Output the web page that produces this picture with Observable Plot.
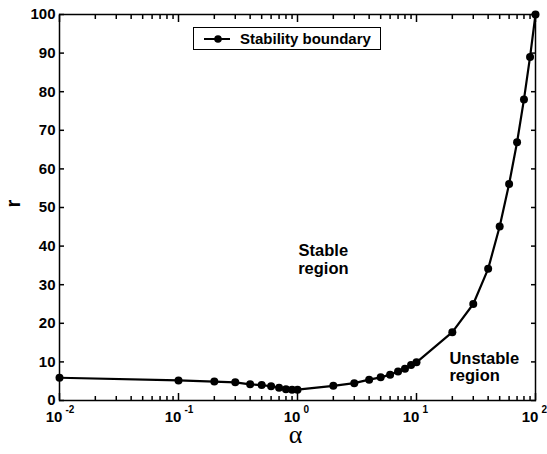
<!DOCTYPE html>
<html><head><meta charset="utf-8">
<script src="https://cdn.jsdelivr.net/npm/d3@7"></script>
<script src="https://cdn.jsdelivr.net/npm/@observablehq/plot@0.6"></script>
<style>
body{margin:0;background:#fff;}
#wrap{position:relative;width:547px;height:454px;font-family:"Liberation Sans",Arial,sans-serif;}
#legend{position:absolute;left:193px;top:27px;width:188px;height:23px;border:1px solid #000;box-sizing:border-box;background:#fff;font-weight:bold;font-size:15px;}
#legend svg{position:absolute;left:8px;top:4px;}
#legend span{position:absolute;left:46px;top:2px;white-space:nowrap;}
</style></head><body><div id="wrap"></div>
<script>
// data
const alpha = [0.01, 0.1, 0.2, 0.3, 0.4, 0.5, 0.6, 0.7, 0.8, 0.9, 1, 2, 3, 4, 5, 6, 7, 8, 9, 10, 20, 30, 40, 50, 60, 70, 80, 90, 100];
const rVal  = [5.9, 5.2, 4.9, 4.7, 4.2, 4.0, 3.7, 3.3, 2.9, 2.8, 2.8, 3.8, 4.5, 5.4, 6.0, 6.7, 7.5, 8.2, 9.2, 9.9, 17.7, 25.0, 34.1, 45.1, 56.1, 66.9, 78.0, 89.0, 100];
const xDecades = [0.01, 0.1, 1, 10, 100];
const xExponents = ["-2", "-1", "0", "1", "2"];
const xMinor = [0.02,0.03,0.04,0.05,0.06,0.07,0.08,0.09, 0.2,0.3,0.4,0.5,0.6,0.7,0.8,0.9, 2,3,4,5,6,7,8,9, 20,30,40,50,60,70,80,90];
const yTicks = [0, 10, 20, 30, 40, 50, 60, 70, 80, 90, 100];
const legendLabel = "Stability boundary";
const annText = ["Stable", "region", "Unstable", "region"];
const annAlpha = [1.65, 1.65, 18.9, 18.9];
const annR = [38.9, 34.2, 10.7, 6.4];
const annAnchor = ["middle", "middle", "start", "start"];

const data = alpha.map((a, i) => ({a, r: rVal[i]}));
const ann = annText.map((t, i) => ({t, a: annAlpha[i], r: annR[i], anchor: annAnchor[i]}));
const blank = () => "";

const wrap = document.getElementById("wrap");
const chart = Plot.plot({
  width: 547, height: 454,
  marginLeft: 59, marginRight: 12, marginTop: 14, marginBottom: 54,
  style: {fontFamily: "'Liberation Sans', Arial, sans-serif", fontWeight: "bold", fontSize: "15px", background: "#fff", color: "#000"},
  x: {type: "log", domain: [0.01, 100]},
  y: {domain: [0, 100]},
  marks: [
    Plot.frame({stroke: "#000", strokeWidth: 1.5}),
    Plot.axisX({anchor: "bottom", ticks: xDecades, tickSize: 7, dy: -7, strokeWidth: 1.5, tickFormat: blank, label: null}),
    Plot.axisX({anchor: "bottom", ticks: xMinor, tickSize: 4, dy: -4, strokeWidth: 1.5, tickFormat: blank, label: null}),
    Plot.axisX({anchor: "top", ticks: xDecades, tickSize: 7, dy: 7, strokeWidth: 1.5, tickFormat: blank, label: null}),
    Plot.axisX({anchor: "top", ticks: xMinor, tickSize: 4, dy: 4, strokeWidth: 1.5, tickFormat: blank, label: null}),
    Plot.axisY({anchor: "left", ticks: yTicks, tickSize: 5, dx: 5, strokeWidth: 1.5, tickFormat: blank, label: null}),
    Plot.axisY({anchor: "right", ticks: yTicks, tickSize: 5, dx: -5, strokeWidth: 1.5, tickFormat: blank, label: null}),
    Plot.axisY({anchor: "left", ticks: yTicks, tickSize: 0, tickPadding: 4, label: null, fontSize: 15}),
    Plot.text(xDecades, {x: d => d, text: () => "10", frameAnchor: "bottom", dy: 21, dx: -5.5, fontSize: 15}),
    Plot.text(xDecades, {x: d => d, text: xExponents, frameAnchor: "bottom", dy: 12, dx: 6, textAnchor: "start", fontSize: 10}),
    Plot.text(["α"], {frameAnchor: "bottom", dy: 42, dx: -2, fontFamily: "'Liberation Serif', serif", fontWeight: "normal", fontSize: 26}),
    Plot.text(["r"], {frameAnchor: "left", dx: -46, rotate: -90, fontSize: 20}),
    Plot.line(data, {x: "a", y: "r", stroke: "#000", strokeWidth: 2.2}),
    Plot.dot(data, {x: "a", y: "r", r: 4, fill: "#000"}),
    Plot.text(ann.filter(d => d.anchor === "middle"), {x: "a", y: "r", text: "t", textAnchor: "middle", fontSize: 16.5}),
    Plot.text(ann.filter(d => d.anchor === "start"), {x: "a", y: "r", text: "t", textAnchor: "start", fontSize: 16.5})
  ]
});
wrap.appendChild(chart);
const leg = document.createElement("div");
leg.id = "legend";
leg.innerHTML = '<svg width="34" height="14"><line x1="2" y1="7" x2="28" y2="7" stroke="#000" stroke-width="2"/><circle cx="16" cy="7" r="3.8" fill="#000"/></svg><span></span>';
leg.querySelector("span").textContent = legendLabel;
wrap.appendChild(leg);
</script>
</body></html>
